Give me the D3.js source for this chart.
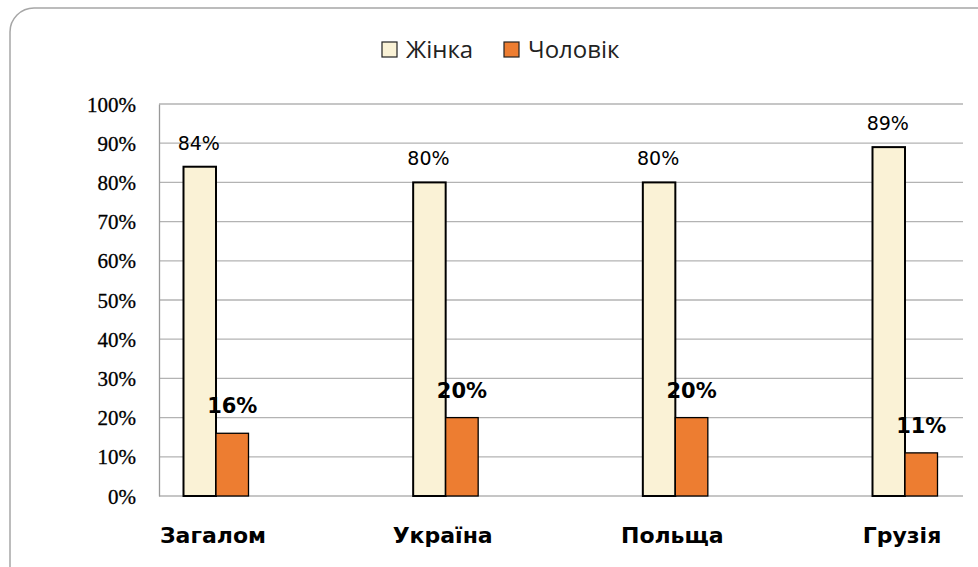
<!DOCTYPE html>
<html>
<head>
<meta charset="utf-8">
<script src="https://cdn.jsdelivr.net/npm/d3@7"></script>
<style>
  body { margin: 0; background: #fff; }
</style>
</head>
<body>
<script>
var categories = ["Загалом", "Україна", "Польща", "Грузія"];
var seriesNames = ["Жінка", "Чоловік"];
var women = [0.84, 0.80, 0.80, 0.89];
var men = [0.16, 0.20, 0.20, 0.11];
var yTicks = [0, 0.1, 0.2, 0.3, 0.4, 0.5, 0.6, 0.7, 0.8, 0.9, 1.0];
var colors = ["#FAF2D6", "#ED7D31"];

var W = 978, H = 567;
var plot = {left: 159, right: 963, top: 104, bottom: 496};

var svg = d3.select("body").append("svg")
  .attr("width", W)
  .attr("height", H);

// chart frame (rounded, cut off at right and bottom)
svg.append("rect")
  .attr("x", 10).attr("y", 8)
  .attr("width", 990).attr("height", 600)
  .attr("rx", 24).attr("ry", 24)
  .attr("fill", "none")
  .attr("stroke", "#a6a6a6")
  .attr("stroke-width", 1.5);

var y = d3.scaleLinear().domain([0, 1]).range([plot.bottom, plot.top]);

// category centers
var x = d3.scalePoint().domain(categories).range([216, 905]);
var barW = 32.5;

// gridlines
svg.append("g").selectAll("line")
  .data(yTicks)
  .enter().append("line")
  .attr("x1", plot.left).attr("x2", plot.right)
  .attr("y1", function(d) { return y(d); })
  .attr("y2", function(d) { return y(d); })
  .attr("stroke", "#b3b3b3")
  .attr("stroke-width", 1.3);

// y axis
var yAxis = svg.append("g")
  .attr("transform", "translate(" + plot.left + ",0)")
  .call(d3.axisLeft(y).tickValues(yTicks).tickSize(0).tickPadding(23)
    .tickFormat(d3.format(".0%")));
yAxis.select(".domain").attr("stroke", "#999").attr("stroke-width", 1.3);
yAxis.selectAll("text")
  .attr("font-family", "Liberation Serif, serif")
  .attr("font-size", 21)
  .attr("fill", "#000")
  .attr("stroke", "#000")
  .attr("stroke-width", 0.3)
  .attr("dy", "0.34em");

// bars
var rows = categories.map(function(c, i) {
  return {cat: c, vals: [women[i], men[i]]};
});

var groups = svg.append("g").selectAll("g")
  .data(rows)
  .enter().append("g")
  .attr("transform", function(d) { return "translate(" + x(d.cat) + ",0)"; });

groups.selectAll("rect")
  .data(function(d) { return d.vals; })
  .enter().append("rect")
  .attr("x", function(d, i) { return i === 0 ? -barW : 0; })
  .attr("y", function(d) { return y(d); })
  .attr("width", barW)
  .attr("height", function(d) { return plot.bottom - y(d); })
  .attr("fill", function(d, i) { return colors[i]; })
  .attr("stroke", "#000")
  .attr("stroke-width", function(d, i) { return i === 0 ? 2 : 1.3; });

// value labels
groups.selectAll("text.val")
  .data(function(d) { return d.vals; })
  .enter().append("text")
  .attr("class", "val")
  .attr("x", function(d, i) { return i === 0 ? -barW / 2 - 1 : barW / 2; })
  .attr("y", function(d, i) { return y(d) - (i === 0 ? 17 : 20); })
  .attr("text-anchor", "middle")
  .attr("font-family", "DejaVu Sans, sans-serif")
  .attr("font-size", function(d, i) { return i === 0 ? 19 : 21; })
  .attr("font-weight", function(d, i) { return i === 0 ? "normal" : "bold"; })
  .attr("fill", "#000")
  .text(function(d) { return d3.format(".0%")(d); });

// category labels
svg.append("g").selectAll("text")
  .data(categories)
  .enter().append("text")
  .attr("x", function(d) { return x(d) - 3; })
  .attr("y", 543)
  .attr("text-anchor", "middle")
  .attr("font-family", "DejaVu Sans, sans-serif")
  .attr("font-size", 22)
  .attr("font-weight", "bold")
  .attr("fill", "#000")
  .text(function(d) { return d; });

// legend
var legendX = [382, 504];
var legend = svg.append("g").selectAll("g")
  .data(seriesNames)
  .enter().append("g")
  .attr("transform", function(d, i) { return "translate(" + legendX[i] + ",42)"; });
legend.append("rect")
  .attr("width", 15).attr("height", 15)
  .attr("fill", function(d, i) { return colors[i]; })
  .attr("stroke", "#222")
  .attr("stroke-width", 1.2);
legend.append("text")
  .attr("x", 24).attr("y", 16)
  .attr("font-family", "Open Sans, sans-serif")
  .attr("font-size", 24)
  .attr("fill", "#222")
  .text(function(d) { return d; });
</script>
</body>
</html>
